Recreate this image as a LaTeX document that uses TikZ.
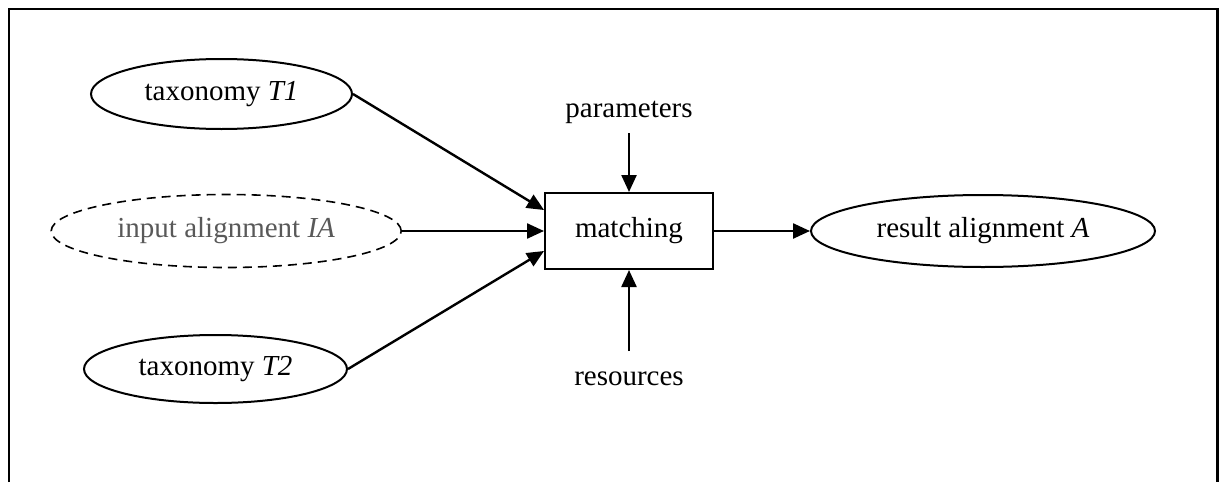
\documentclass[tikz,border=0pt]{standalone}
\usepackage{fontspec}
\setmainfont{Liberation Serif}
\usetikzlibrary{shapes.geometric}
\usetikzlibrary{arrows.meta}
\usetikzlibrary{positioning}

\tikzset{
  ell/.style={ellipse, draw, line width=1pt, inner sep=0pt},
  proc/.style={rectangle, draw, line width=1pt, inner sep=0pt,
    minimum width=84pt, minimum height=38pt},
  lab/.style={inner sep=0pt, anchor=base},
  arr/.style={-{Triangle[length=8.5pt,width=7.5pt]}, line width=1.2pt},
}

\begin{document}
\begin{tikzpicture}[x=0.5pt,y=-0.5pt,
    font=\fontsize{14.5}{17}\selectfont]
        \useasboundingbox (0,0) rectangle (1219,482);
        \draw[line width=1.3pt] (9,482) -- (9,9) -- (1217.5,9) -- (1217.5,482);

        \node[proc]                      (m)  at (629,231) {matching};
        \node[ell, minimum width=130.5pt, minimum height=35pt] (t1) at (221.5,94) {taxonomy \textit{T1}};
        \node[ell, minimum width=131.5pt, minimum height=34pt] (t2) at (215.5,369) {taxonomy \textit{T2}};
        \node[ell, dash pattern=on 4.5pt off 3pt, line width=0.8pt, text=black!65,
              minimum width=175pt, minimum height=36.5pt, left=71pt of m] (ia) {input alignment \textit{IA}};
        \node[ell, minimum width=172pt, minimum height=36pt, right=48pt of m] (a) {result alignment \textit{A}};
        \node[lab] (p) at (629,117) {parameters};
        \node[lab] (r) at (629,385) {resources};
        \coordinate (pa) at (629,133);
        \coordinate (ra) at (629,351);

        \draw[arr] (t1.east) -- ([yshift=10.5pt]m.west);
        \draw[arr] (ia.east) -- (m.west);
        \draw[arr] (t2.east) -- ([yshift=-10pt]m.west);
        \draw[arr] (pa) -- (m.north);
        \draw[arr] (ra) -- (m.south);
        \draw[arr] (m.east) -- (a.west);
      \end{tikzpicture}
\end{document}
